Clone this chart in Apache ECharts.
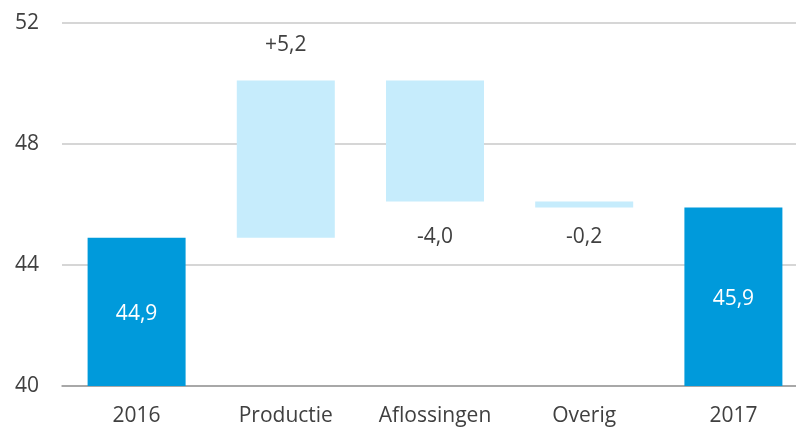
<!DOCTYPE html>
<html>
<head>
<meta charset="utf-8">
<script src="https://cdn.jsdelivr.net/npm/echarts@6/dist/echarts.min.js"></script>
<style>
  html, body { margin: 0; padding: 0; background: #fff; overflow: hidden; }
  #chart { width: 808px; height: 427px; }
</style>
</head>
<body>
<div id="chart"></div>
<script>
const categories = ["2016", "Productie", "Aflossingen", "Overig", "2017"];
const startValue = 44.9;
const changes = [5.2, -4.0, -0.2];
const endValue = 45.9;
const yTicks = [40, 44, 48, 52];

const fmt = v => v.toFixed(1).replace(".", ",");

// waterfall: invisible base + visible part
let base = [];
let size = [];
let level = startValue;
base.push(0); size.push(startValue);
changes.forEach(c => {
  const next = level + c;
  base.push(Math.min(level, next));
  size.push(Math.abs(c));
  level = next;
});
base.push(0); size.push(endValue);

const dark = "#009ADB";
const light = "#C6ECFC";
const textColor = "#404040";
const font = "'Open Sans', sans-serif";

const visible = size.map((v, i) => {
  const isTotal = i === 0 || i === size.length - 1;
  const change = isTotal ? null : changes[i - 1];
  return {
    value: v,
    itemStyle: { color: isTotal ? dark : light },
    label: isTotal
      ? { show: true, position: "inside", color: "#fff", formatter: fmt(v), offset: [0, 2] }
      : {
          show: true,
          position: change > 0 ? "top" : "bottom",
          distance: change > 0 ? 25 : (i === 2 ? 25 : 19),
          color: textColor,
          formatter: (change > 0 ? "+" : "") + fmt(change)
        }
  };
});

const chart = echarts.init(document.getElementById("chart"));
chart.setOption({
  animation: false,
  textStyle: { fontFamily: font },
  grid: { left: 62, right: 0, top: 23, bottom: 41 },
  xAxis: {
    type: "category",
    data: categories,
    axisTick: { show: false },
    axisLine: { lineStyle: { color: "#999", width: 1.5 } },
    axisLabel: { color: textColor, fontSize: 21, margin: 20, fontFamily: font }
  },
  yAxis: {
    type: "value",
    min: yTicks[0],
    max: yTicks[yTicks.length - 1],
    interval: yTicks[1] - yTicks[0],
    axisLine: { show: false },
    axisTick: { show: false },
    axisLabel: { color: textColor, fontSize: 21, margin: 23, fontFamily: font },
    splitLine: { lineStyle: { color: "#c8c8c8", width: 1.5 } }
  },
  series: [
    {
      type: "bar",
      stack: "w",
      barWidth: 98,
      itemStyle: { color: "transparent" },
      data: base,
      silent: true
    },
    {
      type: "bar",
      stack: "w",
      barWidth: 98,
      label: { fontSize: 21, fontFamily: font },
      data: visible
    }
  ]
});
</script>
</body>
</html>
